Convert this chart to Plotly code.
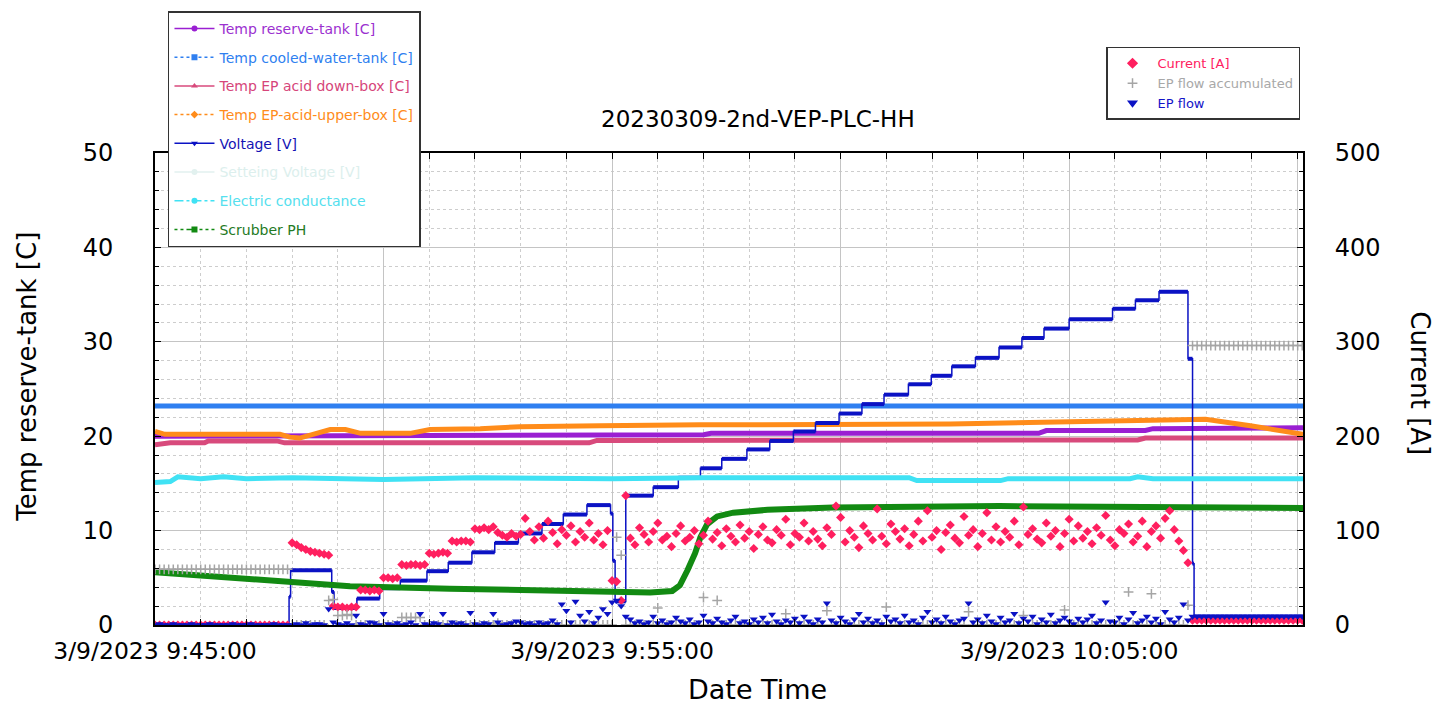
import plotly.graph_objects as go
import pandas as pd

DAY = "2023-03-09 "

# ---------------- line series (time, value) ----------------
reserve_time = ["09:45:00", "09:50:00", "09:57:00", "09:57:10", "10:04:20", "10:04:30", "10:06:40", "10:06:50", "10:10:07"]
reserve_val = [20.0, 20.1, 20.15, 20.3, 20.3, 20.6, 20.6, 20.8, 20.9]

cooled_time = ["09:45:00", "09:48:00", "09:48:20", "09:52:00", "09:52:30", "10:01:00", "10:01:20", "10:10:07"]
cooled_val = [23.2, 23.2, 23.3, 23.2, 23.3, 23.2, 23.25, 23.2]

down_time = ["09:45:00", "09:45:10", "09:45:20", "09:46:05", "09:46:10", "09:47:40", "09:47:50", "09:54:30", "09:54:40", "10:06:30", "10:06:40", "10:10:07"]
down_val = [19.1, 19.2, 19.3, 19.3, 19.5, 19.5, 19.3, 19.3, 19.55, 19.6, 19.8, 19.8]

upper_time = ["09:45:00", "09:45:13", "09:47:44", "09:47:57", "09:48:10", "09:48:30", "09:48:50", "09:49:10", "09:49:30", "09:50:35", "09:51:01", "09:52:07", "09:52:59", "09:54:44", "09:56:56", "10:02:24", "10:04:35", "10:07:00", "10:07:59", "10:08:58", "10:10:07"]
upper_val = [20.5, 20.2, 20.2, 19.9, 19.8, 20.2, 20.7, 20.7, 20.3, 20.3, 20.7, 20.8, 21.0, 21.1, 21.2, 21.3, 21.5, 21.8, 21.8, 21.1, 20.2]

voltage_time = ["09:45:00", "09:47:56", "09:47:58", "09:48:52", "09:48:55", "09:49:25", "09:49:55", "09:50:22", "09:50:57", "09:51:25", "09:51:56", "09:52:26", "09:52:57", "09:53:28", "09:53:56", "09:54:27", "09:54:58", "09:55:01", "09:55:04", "09:55:18", "09:55:54", "09:56:27", "09:56:56", "09:57:24", "09:57:57", "09:58:27", "09:58:58", "09:59:27", "09:59:58", "10:00:28", "10:00:57", "10:01:29", "10:01:59", "10:02:26", "10:02:57", "10:03:28", "10:03:58", "10:04:27", "10:05:00", "10:05:57", "10:06:27", "10:06:58", "10:07:36", "10:07:42", "10:07:44", "10:10:07"]
voltage_val = [0.0, 3.0, 5.8, 3.5, 1.8, 2.8, 3.9, 4.7, 5.7, 6.6, 7.7, 8.7, 9.7, 10.7, 11.7, 12.7, 11.8, 6.8, 2.5, 13.7, 14.6, 15.6, 16.6, 17.6, 18.6, 19.5, 20.5, 21.4, 22.4, 23.4, 24.4, 25.5, 26.4, 27.4, 28.3, 29.4, 30.4, 31.4, 32.4, 33.5, 34.4, 35.3, 28.2, 6.5, 0.9, 0.9]

cond_time = ["09:45:00", "09:45:20", "09:45:30", "09:46:00", "09:46:30", "09:47:00", "09:48:00", "09:50:00", "09:52:00", "09:55:00", "09:57:00", "10:01:30", "10:01:40", "10:03:30", "10:03:40", "10:06:20", "10:06:30", "10:06:50", "10:10:07"]
cond_val = [15.1, 15.2, 15.7, 15.5, 15.7, 15.5, 15.6, 15.4, 15.6, 15.5, 15.6, 15.6, 15.3, 15.3, 15.5, 15.5, 15.7, 15.5, 15.5]

ph_time = ["09:45:00", "09:46:25", "09:47:57", "09:49:16", "09:51:27", "09:53:39", "09:55:50", "09:56:19", "09:56:29", "09:56:39", "09:56:49", "09:56:56", "09:57:05", "09:57:18", "09:57:39", "09:58:24", "09:59:50", "10:03:29", "10:10:07"]
ph_val = [5.6, 5.1, 4.5, 4.1, 3.85, 3.6, 3.45, 3.6, 4.2, 5.8, 7.6, 9.3, 10.7, 11.5, 11.9, 12.2, 12.45, 12.6, 12.4]

# ---------------- sampled scatter series (every 6 s from 09:45:00) ----------------
sample_start = DAY + "09:45:00"
sample_step = "6s"

current = [
    0, 0, 0, 0, 0, 0, 0, 0, 0, 0,
    0, 0, 0, 0, 0, 0, 0, 0, 0, 0,
    0, 0, 0, 0, 0, 0, 0, 0, 0, 0,
    87, 85, 82, 80, 78, 77, 76, 75, 74, 20,
    19, 19, 18, 19, 19, 37, 37, 36, 37, 36,
    50, 50, 49, 50, 64, 63, 64, 64, 63, 64,
    76, 75, 76, 77, 76, 89, 88, 89, 89, 88,
    102, 101, 103, 101, 104, 98, 95, 93, 97, 94,
    96, 113, 99, 90, 104, 92, 110, 98, 86, 101,
    95, 105, 88, 99, 93, 108, 90, 97, 85, 100,
    47, 46, 26, 137, 92, 85, 103, 96, 88, 99,
    108, 90, 94, 83, 97, 105, 89, 93, 100, 86,
    95, 110, 91, 98, 84, 102, 94, 88, 106, 92,
    99, 81, 96, 104, 90, 87, 101, 95, 112, 85,
    97, 93, 108, 89, 99, 91, 84, 103, 96, 126,
    114, 88, 100, 93, 82, 105, 97, 90, 123, 94,
    86, 107, 99, 91, 102, 84, 96, 110, 89, 121,
    93, 100, 80, 98, 106, 92, 87, 115, 95, 101,
    83, 97, 119, 90, 104, 88, 99, 93, 110, 85,
    125, 96, 102, 91, 87, 108, 94, 100, 83, 97,
    112, 89, 105, 92, 99, 86, 103, 95, 116, 90,
    84, 101, 97, 107, 88, 94, 110, 83, 99, 105,
    92, 113, 121, 101, 89, 79, 66, 5, 5, 5,
    5, 5, 5, 5, 5, 5, 5, 5, 5, 5,
    5, 5, 5, 5, 5, 5, 5, 5, 5, 5,
    5, 5,
]

ep_flow = [
    0, 1, 0, 0, 1, 0, 0, 0, 1, 0,
    0, 0, 1, 0, 0, 0, 0, 1, 0, 0,
    0, 1, 0, 0, 0, 0, 1, 0, 0, 0,
    0, 1, 0, 2, 0, 1, 1, 0, 17, 3,
    1, 0, 2, 0, 10, 1, 0, 3, 2, 0,
    12, 1, 0, 2, 0, 1, 3, 0, 12, 1,
    0, 2, 1, 12, 0, 3, 1, 2, 0, 13,
    1, 0, 2, 1, 12, 3, 0, 1, 2, 4,
    3, 1, 2, 0, 3, 1, 2, 5, 1, 22,
    15, 3, 25, 10, 4, 14, 2, 8, 17, 12,
    24, 26, 20, 9, 6, 2, 4, 1, 3, 9,
    2, 5, 1, 3, 8, 4, 2, 6, 1, 3,
    10, 4, 2, 7, 3, 1, 5, 9, 2, 4,
    1, 6, 3, 8, 2, 11, 4, 1, 5, 3,
    7, 2, 9, 4, 1, 6, 3, 23, 5, 2,
    8, 4, 1, 6, 12, 3, 7, 2, 5, 1,
    9, 4, 6, 2, 10, 3, 5, 1, 8, 14,
    3, 6, 2, 9, 4, 1, 5, 7, 23, 3,
    6, 2, 10, 4, 1, 8, 3, 5, 12, 2,
    7, 4, 9, 1, 6, 3, 11, 2, 5, 8,
    4, 1, 7, 3, 6, 10, 2, 5, 24, 4,
    3, 8, 1, 6, 13, 2, 5, 9, 3, 7,
    1, 14, 6, 3, 8, 22, 5, 9, 9, 9,
    9, 9, 9, 9, 9, 9, 9, 9, 9, 9,
    9, 9, 9, 9, 9, 9, 9, 9, 9, 9,
    9, 9,
]

ep_accum = [
    59, 59, 59, 59, 59, 59, 59, 59, 59, 59,
    59, 59, 59, 59, 59, 59, 59, 59, 59, 59,
    59, 59, 59, 59, 59, 59, 59, 59, 59, 59,
    0, 0, 0, 0, 0, 0, 0, 0, 26, 27,
    10, 10, 11, 10, 0, 0, 0, 0, 0, 0,
    0, 0, 0, 0, 8, 8, 8, 8, 8, 0,
    0, 0, 0, 0, 0, 0, 0, 0, 0, 0,
    0, 0, 0, 0, 0, 2, 0, 0, 0, 0,
    0, 0, 0, 0, 0, 0, 0, 0, 0, 0,
    0, 0, 0, 0, 0, 0, 0, 0, 0, 0,
    0, 93, 74, 0, 0, 0, 0, 0, 0, 0,
    18, 0, 0, 0, 0, 0, 0, 0, 0, 0,
    29, 0, 0, 26, 0, 0, 0, 0, 0, 0,
    0, 0, 0, 0, 0, 0, 0, 0, 12, 0,
    0, 0, 0, 0, 0, 0, 0, 15, 0, 0,
    0, 0, 0, 0, 0, 0, 0, 0, 0, 0,
    19, 0, 0, 0, 0, 0, 0, 0, 0, 0,
    0, 0, 0, 0, 0, 0, 0, 0, 14, 0,
    0, 0, 0, 0, 0, 0, 0, 0, 0, 0,
    10, 0, 0, 0, 0, 0, 0, 0, 0, 16,
    0, 0, 0, 0, 0, 0, 0, 0, 0, 0,
    0, 0, 0, 35, 0, 0, 0, 0, 33, 0,
    0, 0, 0, 0, 0, 0, 21, 296, 296, 296,
    296, 296, 296, 296, 296, 296, 296, 296, 296, 296,
    296, 296, 296, 296, 296, 296, 296, 296, 296, 296,
    296, 296,
]

x_tick_times = ["09:45:00", "09:50:00", "09:55:00", "10:00:00", "10:05:00", "10:10:00"]
x_tick_text = ["3/9/2023 9:45:00", "", "3/9/2023 9:55:00", "", "3/9/2023 10:05:00", ""]

# ---------------- colours ----------------
C_RES = "#9a1fd2"
C_COOL = "#2f7ff0"
C_DOWN = "#d84a7c"
C_UP = "#ff8c1a"
C_VOLT = "#0b12c4"
C_SET = "#e2f1ef"
C_COND = "#40e2f4"
C_PH = "#128a12"
C_CUR = "#ff1f5f"
C_ACC = "#a5a5a5"
C_FLOW = "#0b12c4"


def T(lst):
    return [DAY + s for s in lst]


sample_times = pd.date_range(sample_start, periods=len(current), freq=sample_step)

fig = go.Figure()

# data traces (left axis)
fig.add_trace(go.Scatter(x=T(reserve_time), y=reserve_val, mode="lines", line=dict(color=C_RES, width=5), showlegend=False))
fig.add_trace(go.Scatter(x=T(cooled_time), y=cooled_val, mode="lines", line=dict(color=C_COOL, width=5), showlegend=False))
fig.add_trace(go.Scatter(x=T(down_time), y=down_val, mode="lines", line=dict(color=C_DOWN, width=5), showlegend=False))
fig.add_trace(go.Scatter(x=T(upper_time), y=upper_val, mode="lines", line=dict(color=C_UP, width=5), showlegend=False))

# voltage: thin stepped line plus thick horizontal runs
fig.add_trace(go.Scatter(x=T(voltage_time), y=voltage_val, mode="lines", line=dict(color=C_VOLT, width=1.5, shape="hv"), showlegend=False))
seg_x, seg_y = [], []
vt = T(voltage_time)
for i in range(len(vt) - 1):
    seg_x += [vt[i], vt[i + 1], None]
    seg_y += [voltage_val[i], voltage_val[i], None]
fig.add_trace(go.Scatter(x=seg_x, y=seg_y, mode="lines", line=dict(color=C_VOLT, width=4), showlegend=False))

fig.add_trace(go.Scatter(x=T(cond_time), y=cond_val, mode="lines", line=dict(color=C_COND, width=5), showlegend=False))
fig.add_trace(go.Scatter(x=T(ph_time), y=ph_val, mode="lines", line=dict(color=C_PH, width=6), showlegend=False))

# right axis scatter
fig.add_trace(go.Scatter(x=sample_times, y=current, yaxis="y2", mode="markers",
                         marker=dict(symbol="diamond", size=7, color=C_CUR), showlegend=False))
fig.add_trace(go.Scatter(x=sample_times, y=ep_accum, yaxis="y2", mode="markers",
                         marker=dict(symbol="cross-thin", size=7, line=dict(color=C_ACC, width=1.5), color=C_ACC), showlegend=False))
fig.add_trace(go.Scatter(x=sample_times, y=ep_flow, yaxis="y2", mode="markers",
                         marker=dict(symbol="triangle-down", size=7, color=C_FLOW), showlegend=False))

# legend 1 entries
leg1 = [
    ("Temp reserve-tank [C]", C_RES, "#9b30d0", "solid", "circle"),
    ("Temp cooled-water-tank [C]", C_COOL, "#2f7ff0", "dot", "square"),
    ("Temp EP acid down-box [C]", C_DOWN, "#d6457a", "solid", "triangle-up"),
    ("Temp EP-acid-upper-box [C]", C_UP, "#ff8c1a", "dot", "diamond"),
    ("Voltage [V]", C_VOLT, "#1414b4", "solid", "triangle-down"),
    ("Setteing Voltage [V]", C_SET, "#dcefed", "solid", "circle"),
    ("Electric conductance", C_COND, "#55e0ee", "dashdot", "circle"),
    ("Scrubber PH", C_PH, "#247a24", "3px,3px,3px,3px,10px,3px", "square"),
]
for i, (name, lc, tc, dash, sym) in enumerate(leg1):
    fig.add_trace(go.Scatter(
        x=[None], y=[None], mode="lines+markers",
        line=dict(color=lc, width=1.5, dash=dash),
        marker=dict(symbol=sym, size=6, color=lc),
        name=f"<span style='color:{tc}'>{name}</span>",
        legend="legend", legendgroup=f"g{i}", showlegend=True))

leg2 = [
    ("Current [A]", C_CUR, "#ff2060", "diamond"),
    ("EP flow accumulated", C_ACC, "#a8a8a8", "cross-thin"),
    ("EP flow", C_FLOW, "#1414c8", "triangle-down"),
]
for name, mc, tc, sym in leg2:
    fig.add_trace(go.Scatter(
        x=[None], y=[None], yaxis="y2", mode="markers",
        marker=dict(symbol=sym, size=7, color=mc, line=dict(color=mc, width=1.5)),
        name=f"<span style='color:{tc}'>{name}</span>",
        legend="legend2", showlegend=True))

FONT = "DejaVu Sans"
fig.update_layout(
    width=1435, height=705,
    margin=dict(l=155, r=132, t=150, b=80),
    plot_bgcolor="white", paper_bgcolor="white",
    font=dict(family=FONT, color="black"),
    xaxis=dict(
        type="date",
        range=[DAY + "09:45:00", DAY + "10:10:07"],
        tickmode="array", tickvals=T(x_tick_times), ticktext=x_tick_text,
        ticks="inside", ticklen=6, tickcolor="black",
        showgrid=True, gridcolor="#c4c4c4", gridwidth=1.4,
        showline=True, linecolor="black", linewidth=2, mirror="allticks",
        zeroline=False,
        tickfont=dict(size=23.5, family=FONT),
        ticklabelstandoff=4,
        minor=dict(dtick=60000, tick0=DAY + "09:45:00", showgrid=True, gridcolor="#cdcdcd",
                   griddash="dot", gridwidth=1, ticks="inside", ticklen=4, tickcolor="black"),
    ),
    yaxis=dict(
        range=[0, 50], dtick=10, tick0=0,
        ticks="inside", ticklen=6, tickcolor="black",
        showgrid=True, gridcolor="#c4c4c4", gridwidth=1.4,
        showline=True, linecolor="black", linewidth=2,
        zeroline=False,
        tickfont=dict(size=24, family=FONT),
        ticklabelstandoff=35,
        minor=dict(dtick=2, showgrid=True, gridcolor="#cdcdcd", griddash="dot", gridwidth=1,
                   ticks="inside", ticklen=4, tickcolor="black"),
    ),
    yaxis2=dict(
        overlaying="y", side="right",
        range=[0, 500], dtick=100, tick0=0,
        ticks="inside", ticklen=6, tickcolor="black",
        showgrid=False, showline=True, linecolor="black", linewidth=2,
        zeroline=False,
        tickfont=dict(size=24, family=FONT),
        ticklabelstandoff=25,
        minor=dict(dtick=20, showgrid=False, ticks="inside", ticklen=4, tickcolor="black"),
    ),
    legend=dict(
        x=0.0113, y=1.3, xanchor="left", yanchor="top",
        bgcolor="white", bordercolor="#333333", borderwidth=1.5,
        font=dict(size=14, family=FONT), tracegroupgap=7.5, itemwidth=40,
    ),
    legend2=dict(
        x=0.9974, y=1.225, xanchor="right", yanchor="top",
        bgcolor="white", bordercolor="#333333", borderwidth=1.5,
        font=dict(size=13, family=FONT), itemwidth=40,
    ),
    annotations=[
        dict(text="20230309-2nd-VEP-PLC-HH", xref="paper", yref="paper", x=0.525, y=1.073,
             xanchor="center", yanchor="middle", showarrow=False, font=dict(size=23, family=FONT)),
        dict(text="Date Time", xref="paper", yref="paper", x=0.525, y=-0.137,
             xanchor="center", yanchor="middle", showarrow=False, font=dict(size=27, family=FONT)),
        dict(text="Temp reserve-tank [C]", xref="paper", yref="paper", x=-0.1115, y=0.526,
             xanchor="center", yanchor="middle", textangle=-90, showarrow=False, font=dict(size=26, family=FONT)),
        dict(text="Current [A]", xref="paper", yref="paper", x=1.102, y=0.512,
             xanchor="center", yanchor="middle", textangle=90, showarrow=False, font=dict(size=26, family=FONT)),
    ],
)

fig.write_html("out.html", config={"displayModeBar": False},
               post_script="document.body.style.margin='0px';")
